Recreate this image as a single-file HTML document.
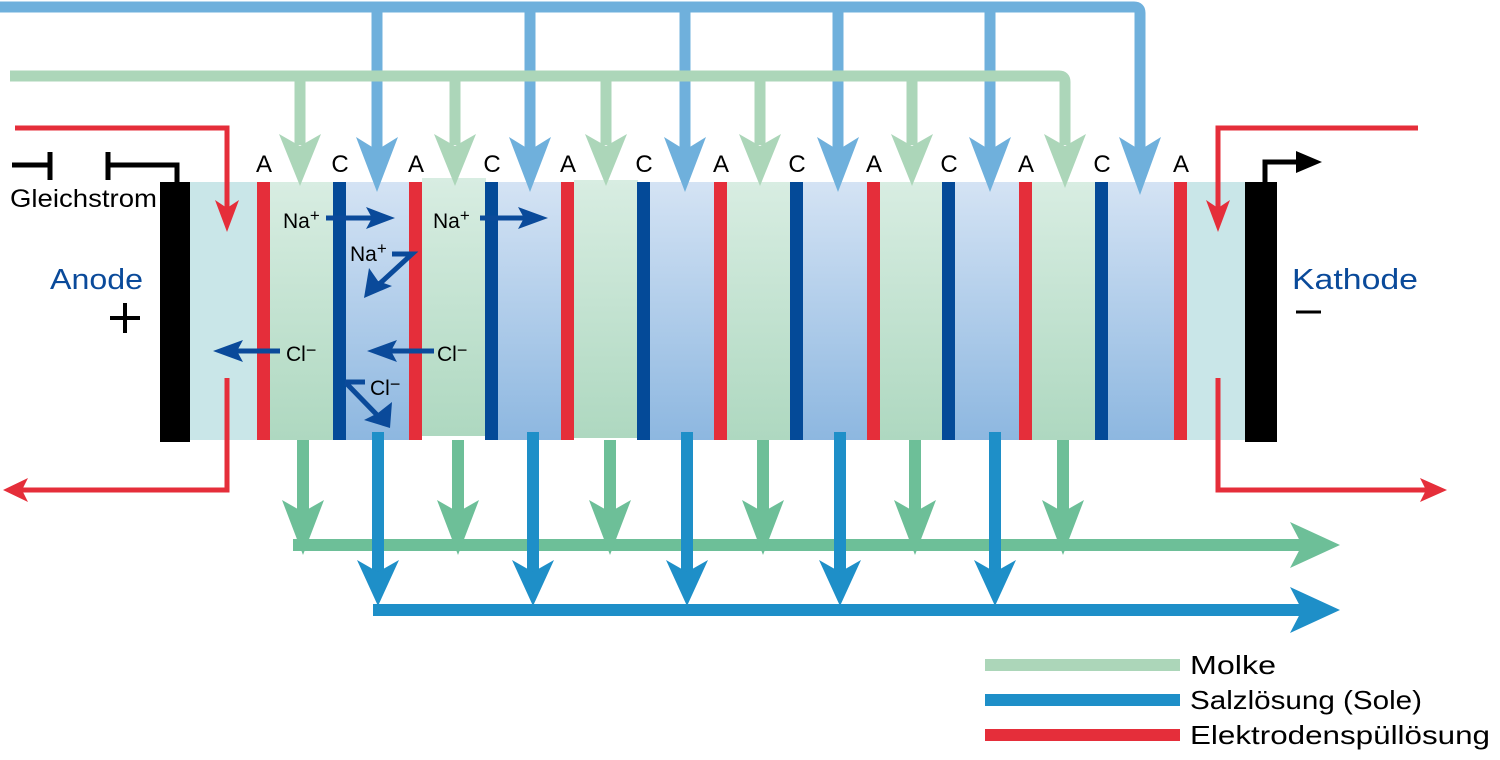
<!DOCTYPE html>
<html><head><meta charset="utf-8"><style>body{margin:0;background:#fff}svg{display:block}text{font-family:"Liberation Sans",sans-serif}</style></head><body>
<svg width="1500" height="760" viewBox="0 0 1500 760" xmlns="http://www.w3.org/2000/svg">
<defs>
<linearGradient id="g" x1="0" y1="0" x2="0" y2="1"><stop offset="0" stop-color="#d8ede2"/><stop offset="1" stop-color="#aed8c0"/></linearGradient>
<linearGradient id="b" x1="0" y1="0" x2="0" y2="1"><stop offset="0" stop-color="#d4e3f4"/><stop offset="1" stop-color="#8db7e0"/></linearGradient>
</defs>
<rect x="190" y="182" width="68" height="258" fill="#c9e6e8"/>
<rect x="1186" y="182" width="60" height="258" fill="#c9e6e8"/>
<g fill="url(#g)">
<rect x="270" y="182" width="64" height="258"/><rect x="422" y="178" width="64" height="258"/><rect x="574" y="180" width="64" height="258"/><rect x="727" y="182" width="64" height="258"/><rect x="880" y="182" width="63" height="258"/><rect x="1032" y="182" width="64" height="258"/>
</g>
<g fill="url(#b)">
<rect x="346" y="182" width="64" height="258"/><rect x="498" y="182" width="64" height="258"/><rect x="650" y="182" width="65" height="258"/><rect x="803" y="182" width="65" height="258"/><rect x="955" y="182" width="65" height="258"/><rect x="1108" y="182" width="67" height="258"/>
</g>
<g fill="#e52e3a"><rect x="257" y="182" width="13" height="258"/><rect x="409" y="182" width="13" height="258"/><rect x="561" y="182" width="13" height="258"/><rect x="714" y="182" width="13" height="258"/><rect x="867" y="182" width="13" height="258"/><rect x="1019" y="182" width="13" height="258"/><rect x="1174" y="182" width="13" height="258"/></g>
<g fill="#044a98"><rect x="333" y="182" width="13" height="258"/><rect x="485" y="182" width="13" height="258"/><rect x="637" y="182" width="13" height="258"/><rect x="790" y="182" width="13" height="258"/><rect x="942" y="182" width="13" height="258"/><rect x="1095" y="182" width="13" height="258"/></g>
<rect x="160" y="182" width="30" height="260" fill="#000"/>
<rect x="1245" y="182" width="32" height="260" fill="#000"/>
<g font-size="24" text-anchor="middle" fill="#000">
<text x="264" y="172">A</text><text x="340" y="172">C</text><text x="416" y="172">A</text><text x="492" y="172">C</text><text x="568" y="172">A</text><text x="644" y="172">C</text><text x="721" y="172">A</text><text x="797" y="172">C</text><text x="874" y="172">A</text><text x="949" y="172">C</text><text x="1026" y="172">A</text><text x="1102" y="172">C</text><text x="1181" y="172">A</text>
</g>
<g fill="none" stroke="#6fb0dc" stroke-width="11">
<path d="M0 7 H1134 Q1140 7 1140 13 V150"/>
<path d="M377 7 V150 M530 7 V150 M685 7 V150 M838 7 V150 M990 7 V150"/>
</g>
<g fill="#6fb0dc">
<path d="M356 137 L377 192 L398 137 L377 150Z"/><path d="M509 137 L530 192 L551 137 L530 150Z"/><path d="M664 137 L685 192 L706 137 L685 150Z"/><path d="M817 137 L838 192 L859 137 L838 150Z"/><path d="M969 137 L990 192 L1011 137 L990 150Z"/><path d="M1119 137 L1140 195 L1161 137 L1140 150Z"/>
</g>
<g fill="none" stroke="#acd6b9" stroke-width="11">
<path d="M10 76 H1059 Q1065 76 1065 82 V145"/>
<path d="M300 76 V145 M455 76 V145 M606 76 V145 M760 76 V145 M912 76 V145"/>
</g>
<g fill="#acd6b9">
<path d="M279 134 L300 186 L321 134 L300 146Z"/><path d="M434 134 L455 186 L476 134 L455 146Z"/><path d="M585 134 L606 186 L627 134 L606 146Z"/><path d="M739 134 L760 186 L781 134 L760 146Z"/><path d="M891 134 L912 186 L933 134 L912 146Z"/><path d="M1044 134 L1065 188 L1086 134 L1065 146Z"/>
</g>
<g fill="none" stroke="#6dbf98" stroke-width="12">
<path d="M303 440 V520 M458 440 V520 M610 440 V520 M763 440 V520 M915 440 V520 M1063 440 V520"/>
<path d="M293 545 H1305"/>
</g>
<g fill="#6dbf98">
<path d="M282 500 L303 555 L324 500 L303 512Z"/><path d="M437 500 L458 555 L479 500 L458 512Z"/><path d="M589 500 L610 555 L631 500 L610 512Z"/><path d="M742 500 L763 555 L784 500 L763 512Z"/><path d="M894 500 L915 555 L936 500 L915 512Z"/><path d="M1042 500 L1063 555 L1084 500 L1063 512Z"/>
<path d="M1290 522 L1340 545 L1290 568 L1302 545Z"/>
</g>
<g fill="none" stroke="#1e8fc8" stroke-width="12">
<path d="M378 432 V580 M533 432 V580 M687 432 V580 M840 432 V580 M995 432 V580"/>
<path d="M373 610 H1305"/>
</g>
<g fill="#1e8fc8">
<path d="M357 560 L378 606 L399 560 L378 572Z"/><path d="M512 560 L533 606 L554 560 L533 572Z"/><path d="M666 560 L687 606 L708 560 L687 572Z"/><path d="M819 560 L840 606 L861 560 L840 572Z"/><path d="M974 560 L995 606 L1016 560 L995 572Z"/>
<path d="M1290 587 L1340 610 L1290 633 L1302 610Z"/>
</g>
<g fill="none" stroke="#e52e3a" stroke-width="5">
<path d="M15 128 H227 V210"/><path d="M227 378 V490 H20"/>
<path d="M1418 128 H1218 V210"/><path d="M1218 378 V490 H1430"/>
</g>
<g fill="#e52e3a">
<path d="M215 200 L227 232 L239 200 L227 208Z"/><path d="M1206 200 L1218 232 L1230 200 L1218 208Z"/>
<path d="M28 478 L3 490 L28 502 L22 490Z"/><path d="M1420 478 L1447 490 L1420 502 L1426 490Z"/>
</g>
<g fill="none" stroke="#000" stroke-width="5">
<path d="M12 165 H50 M50 152 V180"/>
<path d="M108 152 V180 M108 165 H177 V182"/>
<path d="M1265 182 V162 H1300"/>
</g>
<path d="M1296 151 L1322 162 L1296 173Z" fill="#000"/>
<text x="10" y="207" font-size="25" fill="#000" textLength="147" lengthAdjust="spacingAndGlyphs">Gleichstrom</text>
<text x="50" y="289" font-size="29" fill="#0a4a9a" textLength="93" lengthAdjust="spacingAndGlyphs">Anode</text>
<text x="1292" y="289" font-size="29" fill="#0a4a9a" textLength="126" lengthAdjust="spacingAndGlyphs">Kathode</text>
<path d="M110 318 H140 M125 303 V333" stroke="#000" stroke-width="4"/>
<path d="M1296 312 H1321" stroke="#000" stroke-width="3"/>
<g font-size="21" fill="#000">
<text x="283" y="228">Na<tspan dy="-7" font-size="17">+</tspan></text>
<text x="350" y="261">Na<tspan dy="-7" font-size="17">+</tspan></text>
<text x="433" y="228">Na<tspan dy="-7" font-size="17">+</tspan></text>
<text x="286" y="361">Cl<tspan dy="-5" font-size="18">−</tspan></text>
<text x="437" y="361">Cl<tspan dy="-5" font-size="18">−</tspan></text>
<text x="370" y="395">Cl<tspan dy="-5" font-size="18">−</tspan></text>
</g>
<g fill="none" stroke="#0a4a9a" stroke-width="5">
<path d="M326 218 H380"/><path d="M480 218 H532"/>
<path d="M392 254 H412 L375 288"/>
<path d="M280 351 H228"/><path d="M434 351 H382"/>
<path d="M345 382 H365 M346 383 L380 418"/>
</g>
<g fill="#0a4a9a">
<path d="M366 207 L395 218 L366 229 L372 218Z"/><path d="M518 207 L548 218 L518 229 L524 218Z"/>
<path d="M369 268 L364 298 L392 286 L378 281Z"/>
<path d="M243 340 L213 351 L243 362 L237 351Z"/><path d="M397 340 L367 351 L397 362 L391 351Z"/>
<path d="M392 402 L390 428 L364 420 L378 413Z"/>
</g>
<g stroke-width="12">
<path d="M985 665 H1180" stroke="#acd6b9"/>
<path d="M985 700 H1180" stroke="#1e8fc8"/>
<path d="M985 735 H1180" stroke="#e52e3a"/>
</g>
<g font-size="26" fill="#000">
<text x="1190" y="674" textLength="86" lengthAdjust="spacingAndGlyphs">Molke</text>
<text x="1190" y="709" textLength="232" lengthAdjust="spacingAndGlyphs">Salzlösung (Sole)</text>
<text x="1190" y="744" textLength="300" lengthAdjust="spacingAndGlyphs">Elektrodenspüllösung</text>
</g>
</svg>
</body></html>
